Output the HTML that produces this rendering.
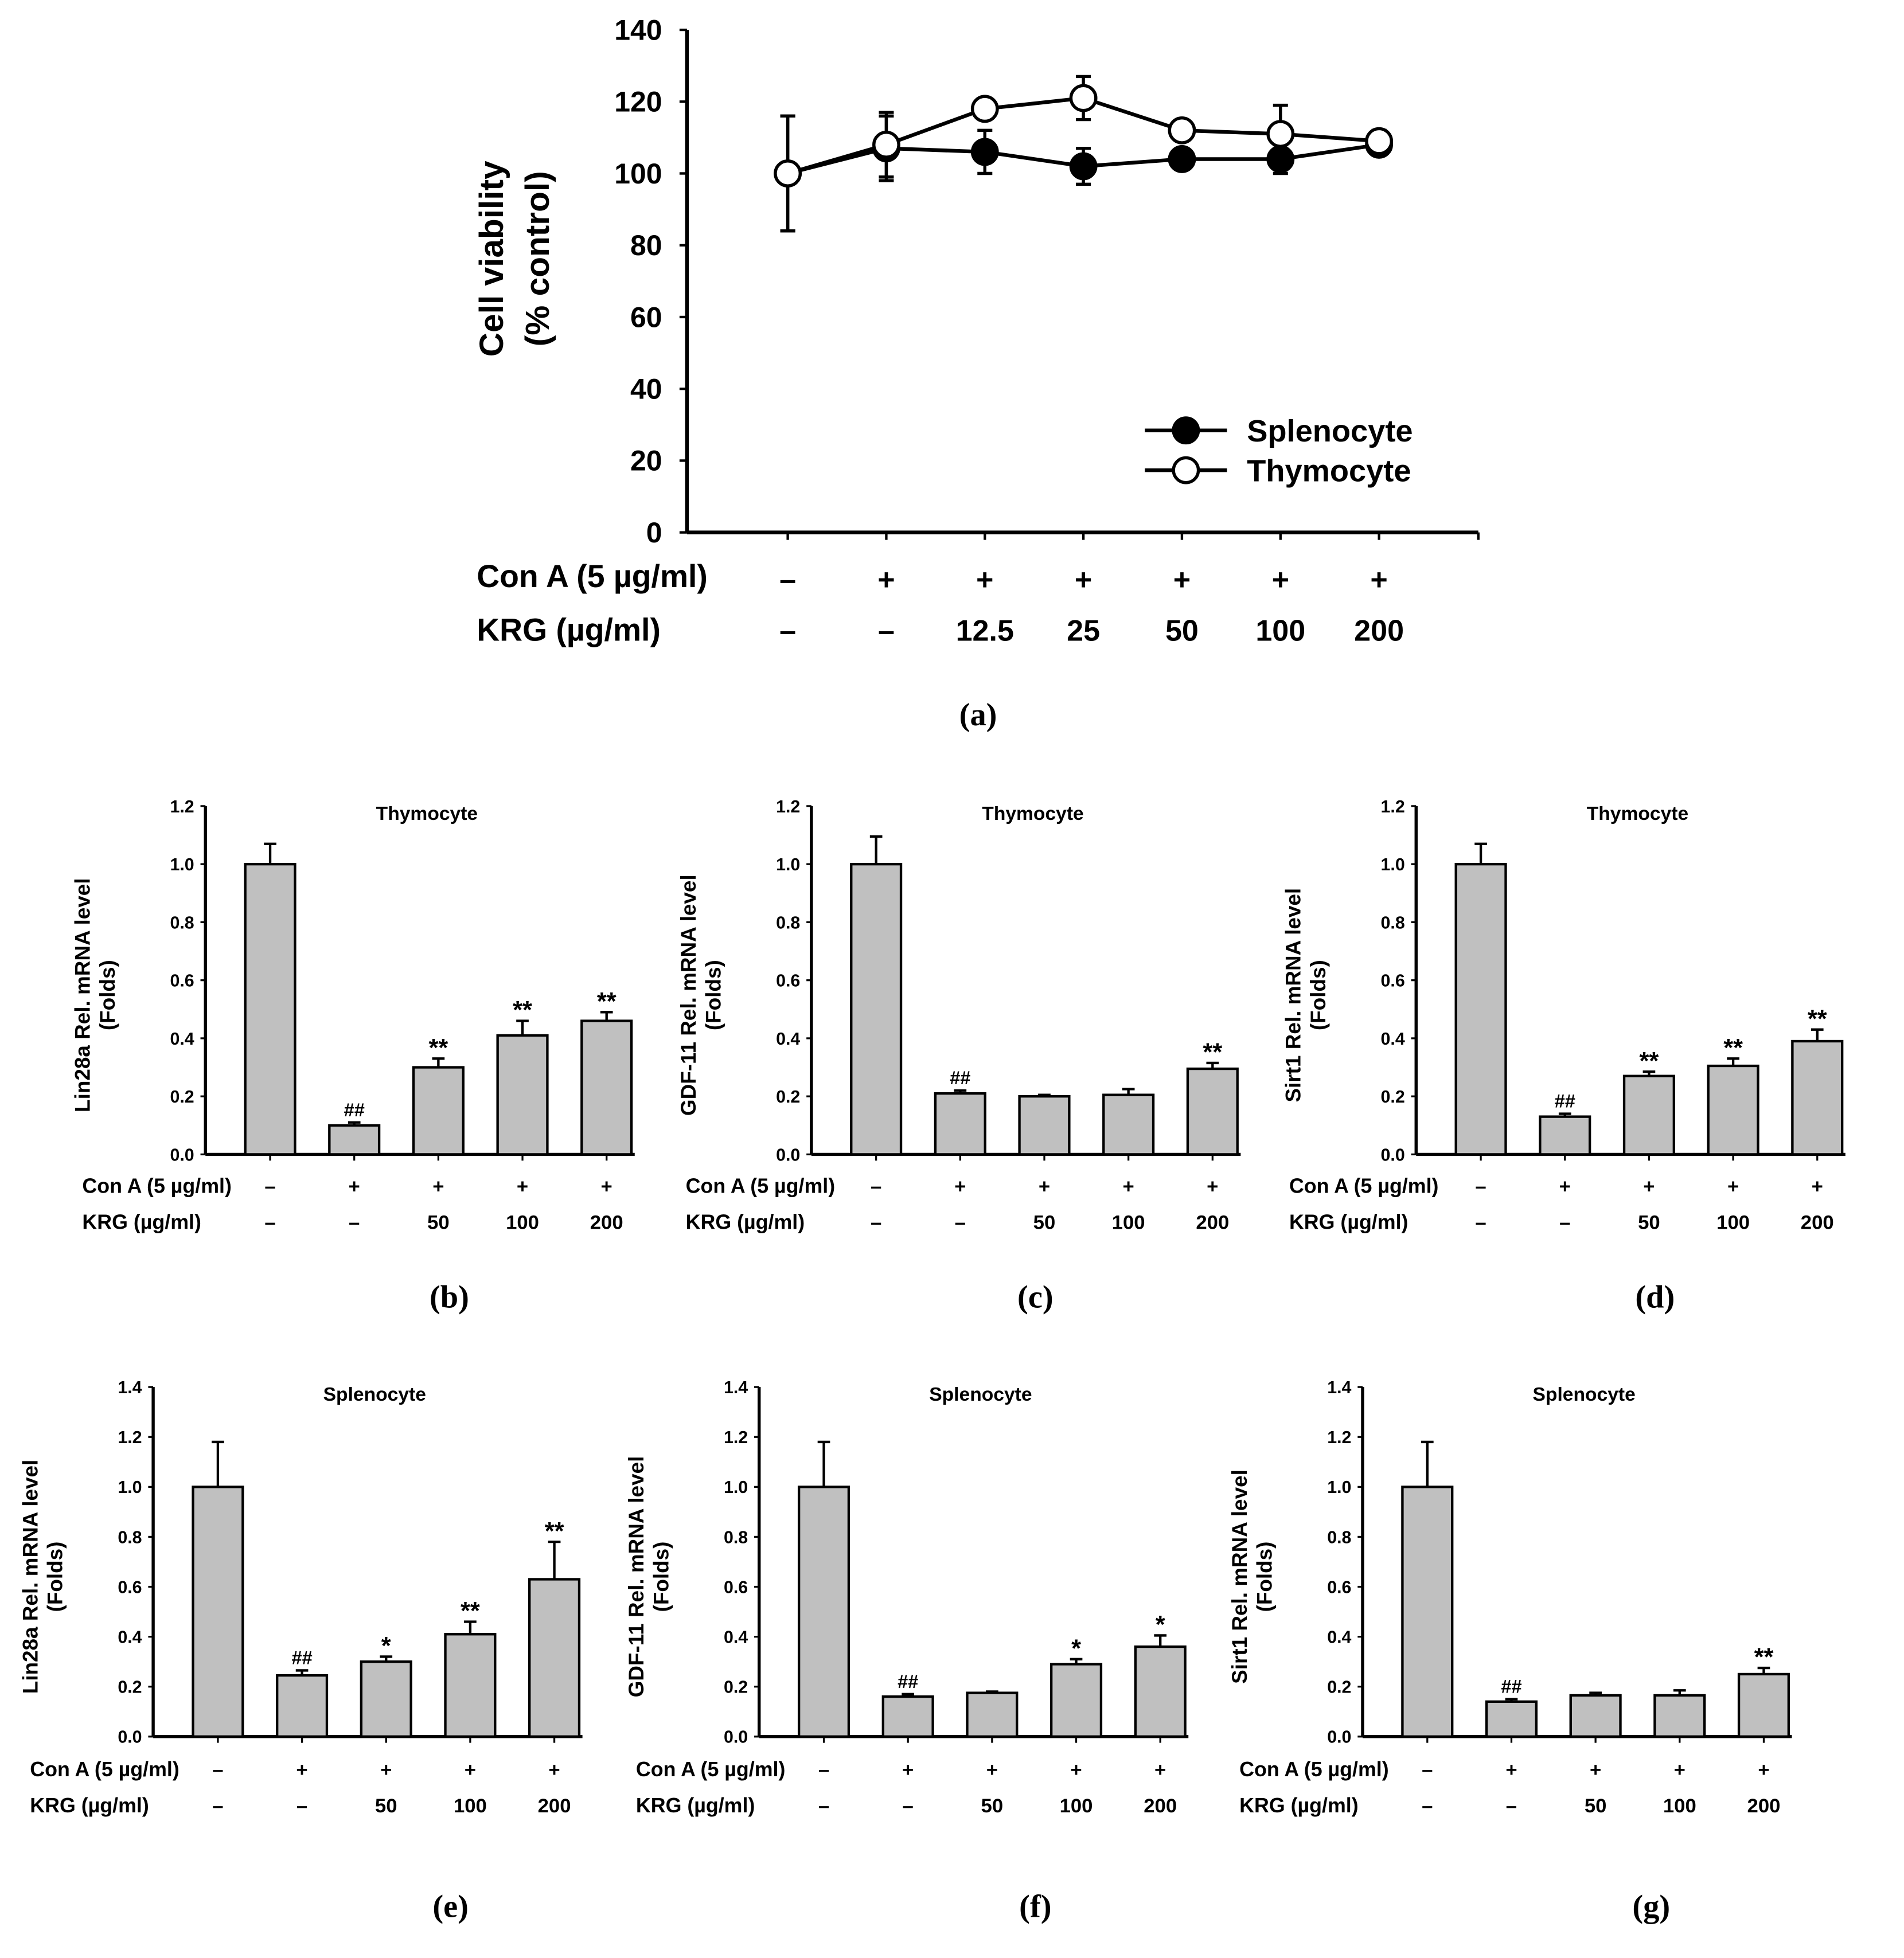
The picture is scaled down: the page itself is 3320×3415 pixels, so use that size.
<!DOCTYPE html>
<html><head><meta charset="utf-8"><style>
html,body{margin:0;padding:0;background:#fff}
svg{display:block}
text{font-family:"Liberation Sans",Arial,sans-serif;font-weight:bold;fill:#000}
.lab{font-family:"Liberation Serif",serif;font-size:26px}
</style></head><body>
<svg id="fig" width="3320" height="3415" viewBox="0 0 1530 1574" xmlns="http://www.w3.org/2000/svg">
<g id="pa"></g>
<g id="pbars"></g>
</svg>
<script>
// Panel (a) data
const aDoses = ["–","+","+","+","+","+","+"];
const aKRG = ["–","–","12.5","25","50","100","200"];
const aTicks = [0,20,40,60,80,100,120,140];
const splenoVals = [100,107,106,102,104,104,108];
const splenoErr = [16,9,6,5,2,4,2];
const thymoVals = [100,108,118,121,112,111,109];
const thymoErr = [16,9,2,6,1,8,3];

// Bar panel data
const barConA = ["–","+","+","+","+"];
const barKRG = ["–","–","50","100","200"];
const bVals = [1.0,0.1,0.3,0.41,0.46];   const bErr = [0.07,0.01,0.03,0.05,0.03]; const bAnn = ["","##","**","**","**"];
const cVals = [1.0,0.21,0.2,0.205,0.295]; const cErr = [0.095,0.01,0.005,0.02,0.02]; const cAnn = ["","##","","","**"];
const dVals = [1.0,0.13,0.27,0.305,0.39]; const dErr = [0.07,0.01,0.015,0.025,0.04]; const dAnn = ["","##","**","**","**"];
const eVals = [1.0,0.245,0.3,0.41,0.63];  const eErr = [0.18,0.02,0.02,0.05,0.15]; const eAnn = ["","##","*","**","**"];
const fVals = [1.0,0.16,0.175,0.29,0.36]; const fErr = [0.18,0.01,0.005,0.02,0.045]; const fAnn = ["","##","","*","*"];
const gVals = [1.0,0.14,0.165,0.165,0.25]; const gErr = [0.18,0.01,0.01,0.02,0.025]; const gAnn = ["","##","","","**"];
const thyTicks = ["0.0","0.2","0.4","0.6","0.8","1.0","1.2"];
const splTicks = ["0.0","0.2","0.4","0.6","0.8","1.0","1.2","1.4"];

const NS="http://www.w3.org/2000/svg";
function mk(parent,tag,attrs,txt){const e=document.createElementNS(NS,tag);for(const k in attrs)e.setAttribute(k,attrs[k]);if(txt!==undefined)e.textContent=txt;parent.appendChild(e);return e;}

// ---- Panel a
const pa=document.getElementById('pa');
const ax0=552, ax1=1188, ay0=428, ay1=24;
const ya=v=>ay0-(v/140)*(ay0-ay1);
const xa=i=>633+i*79.2;
let l=mk(pa,'line',{x1:ax0,y1:ay1,x2:ax0,y2:ay0,stroke:'#000','stroke-width':3});
 
l=mk(pa,'line',{x1:ax0,y1:ay0,x2:ax1,y2:ay0,stroke:'#000','stroke-width':3});
 
mk(pa,'line',{x1:ax1,y1:ay0,x2:ax1,y2:ay0+6,stroke:'#000','stroke-width':2});
aTicks.forEach(t=>{
  mk(pa,'line',{x1:ax0-6,y1:ya(t),x2:ax0,y2:ya(t),stroke:'#000','stroke-width':2});
  const tx=mk(pa,'text',{x:ax0-20,y:ya(t)+8,'text-anchor':'end','font-size':23},t);
   
});
aDoses.forEach((d,i)=>{
  mk(pa,'line',{x1:xa(i),y1:ay0,x2:xa(i),y2:ay0+6,stroke:'#000','stroke-width':2});
  let t=mk(pa,'text',{x:xa(i),y:474,'text-anchor':'middle','font-size':24},d);
   
  t=mk(pa,'text',{x:xa(i),y:515,'text-anchor':'middle','font-size':24},aKRG[i]);
   
});
let tt=mk(pa,'text',{x:383,y:472,'font-size':25.5},'Con A (5 µg/ml)');
 
tt=mk(pa,'text',{x:383,y:515,'font-size':25.5},'KRG (µg/ml)');
 
tt=mk(pa,'text',{transform:'translate(404,208) rotate(-90)','text-anchor':'middle','font-size':27},'Cell viability');
 
tt=mk(pa,'text',{transform:'translate(441,208) rotate(-90)','text-anchor':'middle','font-size':27},'(% control)');
 
function series(vals,errs,fill,name){
  const g=mk(pa,'g',{});
   
  mk(g,'polyline',{points:vals.map((v,i)=>xa(i)+','+ya(v)).join(' '),fill:'none',stroke:'#000','stroke-width':3});
  vals.forEach((v,i)=>{
    const e=errs[i];
    mk(g,'line',{x1:xa(i),y1:ya(v-e),x2:xa(i),y2:ya(v+e),stroke:'#000','stroke-width':2.5});
    mk(g,'line',{x1:xa(i)-6,y1:ya(v+e),x2:xa(i)+6,y2:ya(v+e),stroke:'#000','stroke-width':2.5});
    mk(g,'line',{x1:xa(i)-6,y1:ya(v-e),x2:xa(i)+6,y2:ya(v-e),stroke:'#000','stroke-width':2.5});
    const c=mk(g,'circle',{cx:xa(i),cy:ya(v),r:10,fill:fill,stroke:'#000','stroke-width':2.5});
     
  });
}
series(splenoVals,splenoErr,'#000','splenocyte');
series(thymoVals,thymoErr,'#fff','thymocyte');
[['Splenocyte',346,'#000'],['Thymocyte',378,'#fff']].forEach(([n,y,f])=>{
  const g=mk(pa,'g',{});
   
  mk(g,'line',{x1:920,y1:y,x2:986,y2:y,stroke:'#000','stroke-width':3});
  mk(g,'circle',{cx:953,cy:y,r:10,fill:f,stroke:'#000','stroke-width':2.5});
  mk(g,'text',{x:1002,y:y+9,'font-size':25},n);
});
tt=mk(pa,'text',{x:786,y:583,'text-anchor':'middle',class:'lab'},'(a)');
 

// ---- Bar panels
const pb=document.getElementById('pbars');
const panels=[
 {id:'b',ax:165,y0:928,top:648,ticks:thyTicks,max:1.2,vals:bVals,err:bErr,ann:bAnn,title:'Thymocyte',yt:'Lin28a Rel. mRNA level',rowX:66,rows:[953,982],lab:1040,labX:361},
 {id:'c',ax:652,y0:928,top:648,ticks:thyTicks,max:1.2,vals:cVals,err:cErr,ann:cAnn,title:'Thymocyte',yt:'GDF-11 Rel. mRNA level',rowX:551,rows:[953,982],lab:1040,labX:832},
 {id:'d',ax:1138,y0:928,top:648,ticks:thyTicks,max:1.2,vals:dVals,err:dErr,ann:dAnn,title:'Thymocyte',yt:'Sirt1 Rel. mRNA level',rowX:1036,rows:[953,982],lab:1040,labX:1330},
 {id:'e',ax:123,y0:1396,top:1115,ticks:splTicks,max:1.4,vals:eVals,err:eErr,ann:eAnn,title:'Splenocyte',yt:'Lin28a Rel. mRNA level',rowX:24,rows:[1422,1451],lab:1530,labX:362},
 {id:'f',ax:610,y0:1396,top:1115,ticks:splTicks,max:1.4,vals:fVals,err:fErr,ann:fAnn,title:'Splenocyte',yt:'GDF-11 Rel. mRNA level',rowX:511,rows:[1422,1451],lab:1530,labX:832},
 {id:'g',ax:1095,y0:1396,top:1115,ticks:splTicks,max:1.4,vals:gVals,err:gErr,ann:gAnn,title:'Splenocyte',yt:'Sirt1 Rel. mRNA level',rowX:996,rows:[1422,1451],lab:1530,labX:1327}
];
panels.forEach(p=>{
  const g=mk(pb,'g',{});
   
  const y=v=>p.y0-(v/p.max)*(p.y0-p.top);
  const x=i=>p.ax+52+i*67.6;
  const right=p.ax+345;
  mk(g,'line',{x1:p.ax,y1:p.top,x2:p.ax,y2:p.y0,stroke:'#000','stroke-width':2.5});
  mk(g,'line',{x1:p.ax,y1:p.y0,x2:right,y2:p.y0,stroke:'#000','stroke-width':2.5});
  p.ticks.forEach(t=>{
    const v=parseFloat(t);
    mk(g,'line',{x1:p.ax-4,y1:y(v),x2:p.ax,y2:y(v),stroke:'#000','stroke-width':1.5});
    const tx=mk(g,'text',{x:p.ax-9,y:y(v)+5,'text-anchor':'end','font-size':14},t);
     
  });
  let t=mk(g,'text',{x:p.ax+178,y:p.top+11,'text-anchor':'middle','font-size':15.5},p.title);
   
  const cy=(p.top+p.y0)/2+12;
  t=mk(g,'text',{transform:`translate(${p.ax-93},${cy}) rotate(-90)`,'text-anchor':'middle','font-size':17},p.yt);
   
  t=mk(g,'text',{transform:`translate(${p.ax-73},${cy}) rotate(-90)`,'text-anchor':'middle','font-size':17},'(Folds)');
   
  p.vals.forEach((v,i)=>{
    const cx=x(i), e=p.err[i];
    mk(g,'line',{x1:cx,y1:y(v),x2:cx,y2:y(v+e),stroke:'#000','stroke-width':2});
    mk(g,'line',{x1:cx-5,y1:y(v+e),x2:cx+5,y2:y(v+e),stroke:'#000','stroke-width':2});
    const r=mk(g,'rect',{x:cx-20,y:y(v),width:40,height:p.y0-y(v),fill:'#c0c0c0',stroke:'#000','stroke-width':2});
     
    if(p.ann[i]){
      const a=mk(g,'text',{x:cx,y:y(v+e)-(p.ann[i]==='##'?5:2),'text-anchor':'middle','font-size':p.ann[i]==='##'?15:20},p.ann[i]);
       
    }
    mk(g,'line',{x1:cx,y1:p.y0,x2:cx,y2:p.y0+5,stroke:'#000','stroke-width':1.5});
    let c=mk(g,'text',{x:cx,y:p.rows[0]+6,'text-anchor':'middle','font-size':16},barConA[i]);
     
    c=mk(g,'text',{x:cx,y:p.rows[1]+6,'text-anchor':'middle','font-size':16},barKRG[i]);
     
  });
  t=mk(g,'text',{x:p.rowX,y:p.rows[0]+6,'font-size':16.5},'Con A (5 µg/ml)');
   
  t=mk(g,'text',{x:p.rowX,y:p.rows[1]+6,'font-size':16.5},'KRG (µg/ml)');
   
  t=mk(g,'text',{x:p.labX,y:p.lab+11,'text-anchor':'middle',class:'lab'},'('+p.id+')');
   
});
</script>
</body></html>
